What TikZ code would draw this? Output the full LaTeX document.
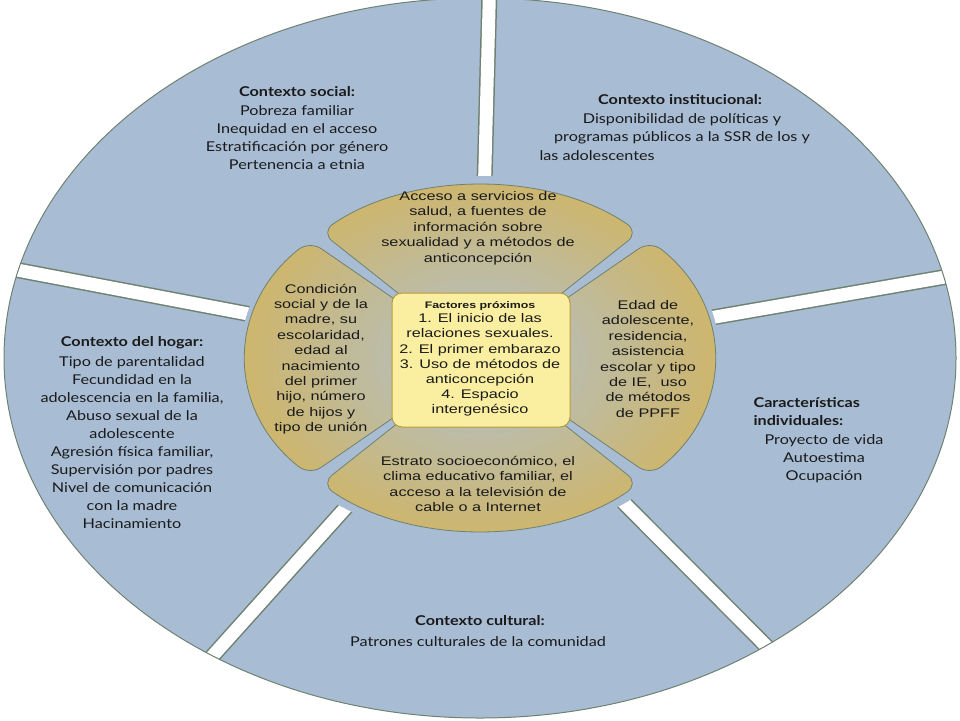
\documentclass[tikz,border=0pt]{standalone}
\usepackage{fontspec}
\usetikzlibrary{calc}
\setmainfont{Lato}[FakeStretch=1.2]
\newfontfamily\arial{Liberation Sans}[FakeStretch=1.3]
\definecolor{segblue}{HTML}{A8BCD4}
\definecolor{segline}{HTML}{6F8272}
\definecolor{pgd}{HTML}{D9B245}
\definecolor{pbl}{HTML}{B0C0D0}
\definecolor{boxfill}{HTML}{FAEFA0}
\definecolor{boxline}{HTML}{B89A3A}
\definecolor{txt}{HTML}{1A1A1A}
\tikzset{
  outer/.style={align=center,text=txt,font=\fontsize{13.5}{18}\selectfont},
  hdr/.style={outer,font=\fontsize{13.5}{18}\selectfont\bfseries},
  ptxt/.style={align=center,text=txt,font=\arial\fontsize{12.5}{15.4}\selectfont},
  petal/.style={draw=segline,line width=0.8pt,rounded corners=14pt,fill=pgd,
    path picture={\shade[inner color=pbl,outer color=pgd] (480,358) ellipse [x radius=330,y radius=250];}},
  gapline/.style={line width=16pt,draw=segline},
  gapwhite/.style={line width=13pt,draw=white}
}
\begin{document}
\begin{tikzpicture}[x=1pt,y=-1pt]
\useasboundingbox (0,0) rectangle (960,720);
\coordinate (C) at (480,358);
% outer disc
\fill[segblue] (C) ellipse [x radius=476, y radius=360];
\begin{scope}
\clip (C) ellipse [x radius=476, y radius=360];
\foreach \p in {(490,-30),(985,270),(790,670),(200,670),(-25,262)}{
  \draw[gapline] (C) -- \p;}
\foreach \p in {(490,-30),(985,270),(790,670),(200,670),(-25,262)}{
  \draw[gapwhite] (C) -- \p;}
\end{scope}
\draw[segline,line width=1pt] (C) ellipse [x radius=476, y radius=360];
\fill[segblue] (C) ellipse [x radius=240, y radius=182];
% petals
\foreach \a/\b in {-133/-47,-43/43,47/133,137/223}{
  \path[petal] (C) -- ($(C)+(\a:233 and 172)$) arc[start angle=\a,end angle=\b,x radius=233,y radius=172] -- cycle;
}
% centre box
\node[draw=boxline,fill=boxfill,line width=1pt,rounded corners=10pt,minimum width=178pt,minimum height=134pt] (box) at (481,360) {};
% outer texts
\node[hdr] (soc) at (297,92) {Contexto social:};
\node[outer,anchor=north] (socl) at (297,102) {Pobreza familiar\\Inequidad en el acceso\\Estratificación por género\\Pertenencia a etnia};
\node[hdr] (ins) at (680,100) {Contexto institucional:};
\node[outer,anchor=north] (insl) at (682,110) {Disponibilidad de políticas y\\programas públicos a la SSR de los y};
\node[outer,anchor=west] (insl2) at (536,156) {las adolescentes};
\node[hdr] (hog) at (132,343) {Contexto del hogar:};
\node[outer,anchor=north] (hogl) at (132,353) {Tipo de parentalidad\\Fecundidad en la\\adolescencia en la familia,\\Abuso sexual de la\\adolescente\\Agresión física familiar,\\Supervisión por padres\\Nivel de comunicación\\con la madre\\Hacinamiento};
\node[hdr,align=left,anchor=north west] (ind) at (750,394) {Características\\individuales:};
\node[outer,anchor=north] (indl) at (824,431) {Proyecto de vida\\Autoestima\\Ocupación};
\node[hdr] (cul) at (480,621) {Contexto cultural:};
\node[outer] (cull) at (478,642) {Patrones culturales de la comunidad};
% petal texts
\node[ptxt] (p1) at (478,228) {Acceso a servicios de\\salud, a fuentes de\\información sobre\\sexualidad y a métodos de\\anticoncepción};
\node[ptxt] (p2) at (321,359) {Condición\\social y de la\\madre, su\\escolaridad,\\edad al\\nacimiento\\del primer\\hijo, número\\de hijos y\\tipo de unión};
\node[ptxt] (p3) at (648,359) {Edad de\\adolescente,\\residencia,\\asistencia\\escolar y tipo\\de IE,\ \ uso\\de métodos\\de PPFF};
\node[ptxt] (p4) at (478,484) {Estrato socioeconómico, el\\clima educativo familiar, el\\acceso a la televisión de\\cable o a Internet};
% centre texts
\node[text=txt,font=\arial\fontsize{9.5}{11}\selectfont\bfseries] (fh) at (480,306) {Factores próximos};
\node[ptxt,font=\arial\fontsize{12.5}{15.2}\selectfont] (fl) at (480,365) {1. El inicio de las\\relaciones sexuales.\\2. El primer embarazo\\3. Uso de métodos de\\anticoncepción\\4. Espacio\\intergenésico};
\end{tikzpicture}
\end{document}
